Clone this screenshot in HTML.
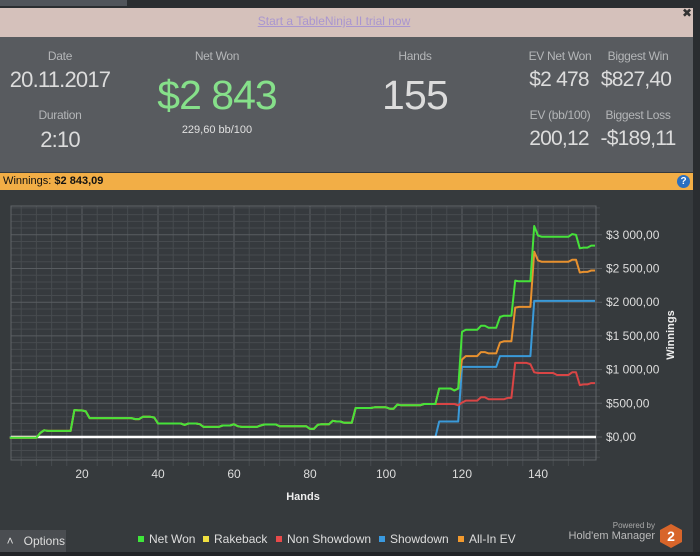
<!DOCTYPE html>
<html><head><meta charset="utf-8"><style>
html,body{margin:0;width:700px;height:556px;overflow:hidden}
body{background:#363a3d;font-family:"Liberation Sans","DejaVu Sans",sans-serif;position:relative}
.abs{position:absolute}
.lbl{color:#b4b6b8;font-size:12px;text-align:center;letter-spacing:-0.3px}
.val{color:#dcdcdc;text-align:center;letter-spacing:-0.8px;white-space:nowrap}
</style></head><body>
<div class="abs" style="left:0;top:0;width:700px;height:8px;background:#2a2d30"></div>
<div class="abs" style="left:0;top:0;width:127px;height:6px;background:#50545a"></div>
<div class="abs" style="left:0;top:8px;width:693px;height:29px;background:#d5c1bb"></div>
<div class="abs" style="left:0;top:14px;width:668px;text-align:center;font-size:12px;color:#a996d0;text-decoration:underline">Start a TableNinja II trial now</div>
<div class="abs" style="left:682px;top:7px;font-size:12px;line-height:12px;color:#333;font-weight:bold">✖</div>
<div class="abs" style="left:693px;top:8px;width:7px;height:548px;background:#2a2d30"></div>
<div class="abs" style="left:0;top:37px;width:693px;height:135px;background:#585b5f"></div>
<div class="abs lbl" style="left:0;top:49px;width:120px">Date</div>
<div class="abs val" style="left:0;top:67px;width:120px;font-size:22px">20.11.2017</div>
<div class="abs lbl" style="left:0;top:108px;width:120px">Duration</div>
<div class="abs val" style="left:0;top:127px;width:120px;font-size:22px">2:10</div>
<div class="abs lbl" style="left:147px;top:49px;width:140px">Net Won</div>
<div class="abs" style="left:137px;top:72px;width:160px;text-align:center;font-size:41px;letter-spacing:-1px;color:#86e08a">$2 843</div>
<div class="abs" style="left:147px;top:124px;width:140px;text-align:center;font-size:11px;color:#e0e0e0">229,60 bb/100</div>
<div class="abs lbl" style="left:355px;top:49px;width:120px">Hands</div>
<div class="abs val" style="left:355px;top:72px;width:120px;font-size:41px">155</div>
<div class="abs lbl" style="left:520px;top:49px;width:80px">EV Net Won</div>
<div class="abs val" style="left:519px;top:68px;width:80px;font-size:21px">$2 478</div>
<div class="abs lbl" style="left:598px;top:49px;width:80px">Biggest Win</div>
<div class="abs val" style="left:591px;top:68px;width:90px;font-size:21px">$827,40</div>
<div class="abs lbl" style="left:520px;top:108px;width:80px">EV (bb/100)</div>
<div class="abs val" style="left:519px;top:127px;width:80px;font-size:21px">200,12</div>
<div class="abs lbl" style="left:598px;top:108px;width:80px">Biggest Loss</div>
<div class="abs val" style="left:590px;top:127px;width:96px;font-size:21px">-$189,11</div>
<div class="abs" style="left:0;top:173px;width:693px;height:17px;background:#f2ae46;font-size:11px;line-height:17px;color:#111">&nbsp;Winnings: <b>$2 843,09</b></div>
<div class="abs" style="left:677px;top:175px;width:13px;height:13px;border-radius:50%;background:#2a6fc0;color:#fff;font-size:10px;font-weight:bold;text-align:center;line-height:13px">?</div>
<svg class="abs" style="left:0;top:190px" width="693" height="362">
<g id="g" transform="translate(0,-190)"></g>
</svg>
<div class="abs" style="left:0;top:530px;width:66px;height:22px;background:#4a4d51;color:#ddd;font-size:12px;line-height:22px">&nbsp;&nbsp;˄&nbsp;&nbsp; Options</div>
<div class="abs" style="left:0;top:552px;width:700px;height:4px;background:#222427"></div>
<div class="abs" style="left:560px;top:521px;width:95px;text-align:right;font-size:8px;color:#aaa">Powered by</div>
<div class="abs" style="left:545px;top:530px;width:110px;text-align:right;font-size:11px;color:#bbb">Hold'em Manager</div>
<svg class="abs" style="left:659px;top:523px" width="24" height="26"><polygon points="12,1 23,7 23,19 12,25 1,19 1,7" fill="#d8652a"/><text x="12" y="18" text-anchor="middle" font-size="14" font-weight="bold" fill="#fff" font-family="Liberation Sans">2</text></svg>
<script>
const hands=[];for(let i=1;i<=155;i++)hands.push(i);
const netWon=[-10,-10,-10,-10,-10,-10,-10,-10,60,100,90,90,90,90,90,90,90,400,395,395,380,280,280,280,280,280,280,280,280,280,280,280,280,265,265,300,300,300,290,200,200,200,200,200,200,200,180,200,200,200,190,150,150,150,150,150,170,170,170,190,160,150,150,150,150,150,170,185,185,185,185,160,160,160,160,160,160,160,160,120,120,180,190,190,190,240,230,230,210,210,210,430,430,430,430,430,440,440,440,440,420,420,480,470,470,470,470,470,470,490,490,490,490,720,720,720,720,690,720,1560,1590,1590,1590,1590,1650,1650,1620,1620,1620,1780,1800,1800,1800,2320,2310,2310,2310,2310,3130,2990,2970,2970,2970,2970,2970,2970,2970,2970,3010,3000,2800,2810,2810,2840,2840];
const nonShowdown=[-10,-10,-10,-10,-10,-10,-10,-10,60,100,90,90,90,90,90,90,90,400,395,395,380,280,280,280,280,280,280,280,280,280,280,280,280,265,265,300,300,300,290,200,200,200,200,200,200,200,180,200,200,200,190,150,150,150,150,150,170,170,170,190,160,150,150,150,150,150,170,185,185,185,185,160,160,160,160,160,160,160,160,120,120,180,190,190,190,240,230,230,210,210,210,430,430,430,430,430,440,440,440,440,420,420,480,470,470,470,470,470,470,490,490,490,490,490,490,490,490,490,470,510,540,540,540,540,590,590,560,560,560,560,560,580,580,1100,1100,1100,1100,1080,960,950,950,950,950,950,920,920,920,920,960,960,770,780,780,800,800];
const showdown=[0,0,0,0,0,0,0,0,0,0,0,0,0,0,0,0,0,0,0,0,0,0,0,0,0,0,0,0,0,0,0,0,0,0,0,0,0,0,0,0,0,0,0,0,0,0,0,0,0,0,0,0,0,0,0,0,0,0,0,0,0,0,0,0,0,0,0,0,0,0,0,0,0,0,0,0,0,0,0,0,0,0,0,0,0,0,0,0,0,0,0,0,0,0,0,0,0,0,0,0,0,0,0,0,0,0,0,0,0,0,0,0,0,230,230,230,230,230,230,1040,1040,1040,1040,1040,1040,1040,1040,1040,1040,1200,1200,1200,1200,1200,1200,1200,1200,1200,2020,2020,2020,2020,2020,2020,2020,2020,2020,2020,2020,2020,2020,2020,2020,2020,2020];
const allInEV=[-10,-10,-10,-10,-10,-10,-10,-10,60,100,90,90,90,90,90,90,90,400,395,395,380,280,280,280,280,280,280,280,280,280,280,280,280,265,265,300,300,300,290,200,200,200,200,200,200,200,180,200,200,200,190,150,150,150,150,150,170,170,170,190,160,150,150,150,150,150,170,185,185,185,185,160,160,160,160,160,160,160,160,120,120,180,190,190,190,240,230,230,210,210,210,430,430,430,430,430,440,440,440,440,420,420,480,470,470,470,470,470,470,490,490,490,490,720,720,720,720,690,720,1150,1200,1200,1200,1200,1260,1260,1240,1240,1240,1400,1420,1420,1420,1920,1930,1930,1930,1930,2750,2620,2600,2600,2600,2600,2600,2600,2600,2600,2630,2630,2440,2450,2450,2470,2470];
const xTicks=[20,40,60,80,100,120,140];
const yTicks=[0,500,1000,1500,2000,2500,3000];
const yTickLabels=["$0,00","$500,00","$1 000,00","$1 500,00","$2 000,00","$2 500,00","$3 000,00"];
const L=11,R=596,T=206,B=460;
const xs=h=>6+3.8*h, ys=v=>437-v*0.0674;
const g=document.getElementById('g'),NS='http://www.w3.org/2000/svg';
function el(t,a){const e=document.createElementNS(NS,t);for(const k in a)e.setAttribute(k,a[k]);g.appendChild(e);return e;}
let e=el('rect',{x:L,y:T,width:R-L,height:B-T,fill:'#363a3e'});

for(let h=4;h<=154;h+=4){const x=xs(h);const major=h%20===0;
e=el('line',{x1:x,x2:x,y1:T,y2:B+(major?0:6),stroke:major?'#595d61':'#474b4f','stroke-width':1});
}
for(let v=-300;v<=3400;v+=100){const y=ys(v);const major=v%500===0;
e=el('line',{x1:L,x2:R+(major?6:4),y1:y,y2:y,stroke:major?'#595d61':'#474b4f','stroke-width':1});
}
e=el('rect',{x:L,y:T,width:R-L,height:B-T,fill:'none',stroke:'#606468'});

xTicks.forEach(t=>{e=el('text',{x:xs(t),y:478,'text-anchor':'middle','font-size':12,fill:'#ddd','font-family':'Liberation Sans'});e.textContent=t;
});
yTicks.forEach((t,i)=>{e=el('text',{x:606,y:ys(t)+4,'font-size':12,fill:'#ddd','font-family':'Liberation Sans'});e.textContent=yTickLabels[i];
});
e=el('text',{x:303,y:500,'text-anchor':'middle','font-size':11,'font-weight':'bold',fill:'#eee','font-family':'Liberation Sans'});e.textContent='Hands';

e=el('text',{x:0,y:0,'text-anchor':'middle','font-size':11,'font-weight':'bold',fill:'#eee','font-family':'Liberation Sans',transform:'translate(674,335) rotate(-90)'});e.textContent='Winnings';

function series(arr,col,name){const p=arr.map((v,i)=>xs(hands[i]).toFixed(1)+','+ys(v).toFixed(1)).join(' ');
const s=el('polyline',{points:p,fill:'none',stroke:col,'stroke-width':2,'stroke-linejoin':'round'});
}
series(showdown,'#3a9ad9','showdown-line');
e=el('line',{x1:L,x2:R,y1:ys(0),y2:ys(0),stroke:'#ffffff','stroke-width':2.5});

series(nonShowdown,'#d94545','non-showdown-line');
series(allInEV,'#e8912f','all-in-ev-line');
series(netWon,'#46e23a','net-won-line');
const legend=[['Net Won','#3ee63a',138],['Rakeback','#f0e040',203],['Non Showdown','#e84a4a',276],['Showdown','#3a9ae0',379],['All-In EV','#f39a2e',458]];
legend.forEach(l=>{e=el('rect',{x:l[2],y:536,width:6,height:6,fill:l[1]});

e=el('text',{x:l[2]+11,y:543,'font-size':12,fill:'#ddd','font-family':'Liberation Sans'});e.textContent=l[0];
});
</script>
</body></html>
